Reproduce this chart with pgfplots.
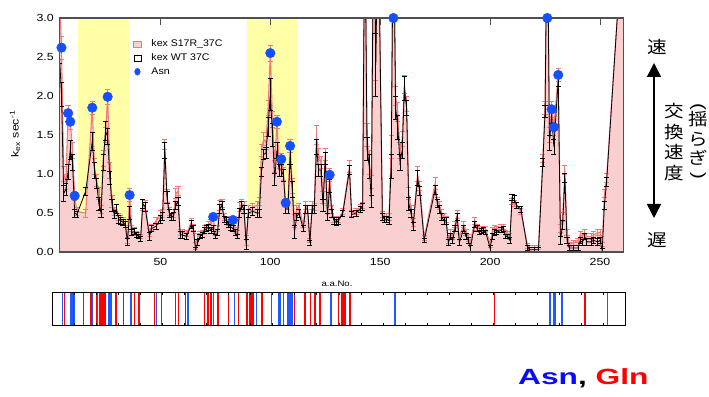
\documentclass[border=0pt]{standalone}
\usepackage{fontspec}
\setmainfont{Liberation Sans}[FakeStretch=1.2]
\newfontfamily\jp{Noto Sans CJK JP}[FakeStretch=1.15]
\newfontfamily\widefont{Liberation Sans}[FakeStretch=1.44]
\newfontfamily\legfont{Liberation Sans}[FakeStretch=1.1]
\usepackage{graphicx}
\usepackage{pgfplots}
\pgfplotsset{compat=1.18}
\usepackage{pgfplotstable}
\usetikzlibrary{arrows.meta}
\definecolor{pinkfill}{RGB}{249,207,207}
\definecolor{pinkline}{RGB}{245,120,120}
\definecolor{yellowband}{RGB}{255,255,168}
\definecolor{dotblue}{RGB}{20,80,255}
\definecolor{stripblue}{RGB}{30,90,255}
\definecolor{stripred}{RGB}{255,0,0}
\definecolor{axisgray}{RGB}{80,80,80}
\definecolor{asnblue}{RGB}{10,10,255}

\pgfplotstableread{
r wt we s se
4 2.55 0.13 3.40 0.20
5 2.02 0.15 2.62 0.15
6 0.75 0.10 1.00 0.10
7 0.80 0.08 0.90 0.10
8 1.03 0.10 1.78 0.10
9 1.31 0.12 1.67 0.10
10 1.15 0.10 1.30 0.10
11 0.50 0.05 0.72 0.06
12 0.48 0.04 0.52 0.05
16 0.78 0.05 0.50 0.05
19 1.42 0.12 1.85 0.08
20 1.05 0.10 1.10 0.10
21 0.88 0.07 0.92 0.08
22 0.62 0.08 0.75 0.08
23 0.50 0.05 0.55 0.05
24 1.15 0.10 1.20 0.10
25 1.55 0.12 1.50 0.10
26 1.48 0.10 1.99 0.10
27 0.95 0.08 1.05 0.10
28 0.60 0.08 0.65 0.08
29 0.48 0.05 0.52 0.05
30 0.55 0.06 0.55 0.06
31 0.42 0.05 0.45 0.05
32 0.40 0.04 0.42 0.05
33 0.38 0.04 0.40 0.04
34 0.35 0.04 0.38 0.04
35 0.13 0.04 0.15 0.04
36 0.50 0.08 0.73 0.08
37 0.25 0.04 0.30 0.04
38 0.26 0.04 0.28 0.04
39 0.22 0.03 0.24 0.03
40 0.20 0.03 0.22 0.03
41 0.17 0.03 0.20 0.03
42 0.62 0.06 0.60 0.07
43 0.58 0.06 0.60 0.06
45 0.20 0.05 0.25 0.05
46 0.30 0.04 0.32 0.04
48 0.33 0.04 0.40 0.04
50 0.42 0.05 0.48 0.05
51 0.46 0.05 0.50 0.05
52 1.30 0.10 1.38 0.06
53 0.70 0.08 0.72 0.08
54 0.50 0.05 0.52 0.05
55 0.45 0.05 0.45 0.05
56 0.46 0.05 0.50 0.05
57 0.60 0.05 0.75 0.06
58 0.65 0.05 0.78 0.06
59 0.22 0.04 0.25 0.04
60 0.22 0.04 0.25 0.04
62 0.20 0.04 0.24 0.04
64 0.35 0.05 0.38 0.05
65 0.30 0.04 0.32 0.04
66 0.02 0.04 0.08 0.04
67 0.12 0.04 0.20 0.04
68 0.20 0.03 0.24 0.03
69 0.22 0.03 0.25 0.03
70 0.28 0.04 0.30 0.04
71 0.30 0.04 0.32 0.04
72 0.32 0.04 0.35 0.04
73 0.28 0.04 0.38 0.04
74 0.30 0.04 0.45 0.05
75 0.20 0.03 0.24 0.03
76 0.25 0.04 0.30 0.04
77 0.55 0.06 0.60 0.06
78 0.60 0.05 0.62 0.05
79 0.42 0.04 0.45 0.04
80 0.40 0.04 0.42 0.04
81 0.35 0.04 0.38 0.04
82 0.32 0.04 0.35 0.04
83 0.30 0.04 0.41 0.04
84 0.25 0.04 0.28 0.04
85 0.20 0.03 0.25 0.03
86 0.50 0.06 0.58 0.06
87 0.60 0.05 0.62 0.05
88 0.55 0.05 0.60 0.05
89 0.10 0.06 0.15 0.06
90 0.50 0.05 0.55 0.05
92 0.52 0.05 0.58 0.05
94 0.50 0.05 0.60 0.05
95 0.50 0.05 0.65 0.05
96 1.03 0.06 1.30 0.08
97 1.25 0.06 1.45 0.08
98 1.27 0.07 1.40 0.08
99 1.60 0.12 1.85 0.10
100 2.02 0.20 2.55 0.10
101 1.50 0.15 1.70 0.10
102 0.93 0.08 1.10 0.08
103 1.30 0.10 1.67 0.08
104 1.05 0.08 1.15 0.08
105 1.05 0.08 1.19 0.08
106 0.98 0.08 1.00 0.08
107 0.55 0.06 0.63 0.06
108 0.55 0.05 0.60 0.05
109 1.22 0.10 1.36 0.08
110 0.80 0.10 0.85 0.10
111 0.26 0.08 0.40 0.08
112 0.45 0.05 0.55 0.05
113 0.50 0.05 0.58 0.05
115 0.30 0.04 0.35 0.04
116 0.55 0.05 0.60 0.05
117 0.55 0.05 0.55 0.05
118 0.12 0.03 0.15 0.03
119 0.55 0.05 0.60 0.05
120 0.55 0.05 0.58 0.05
121 1.35 0.10 1.50 0.12
122 1.05 0.08 1.25 0.08
123 1.05 0.08 1.15 0.08
124 0.60 0.08 0.70 0.08
125 1.20 0.08 1.25 0.08
126 0.45 0.05 0.55 0.05
127 0.85 0.08 0.99 0.08
128 0.50 0.05 0.55 0.05
129 0.40 0.04 0.42 0.04
130 0.38 0.04 0.40 0.04
131 0.40 0.04 0.42 0.04
133 0.50 0.04 0.52 0.04
136 1.05 0.06 1.10 0.08
137 0.48 0.04 0.50 0.04
139 0.50 0.04 0.52 0.04
141 0.55 0.04 0.57 0.04
142 0.58 0.04 0.60 0.04
143 4.50 0.20 4.50 0.20
144 1.32 0.15 1.50 0.15
145 1.10 0.15 1.15 0.15
146 0.65 0.08 0.90 0.08
147 4.50 0.20 4.50 0.20
148 2.40 0.40 2.50 0.30
149 4.50 0.20 4.50 0.20
151 0.45 0.04 0.48 0.04
152 0.42 0.04 0.45 0.04
153 0.42 0.04 0.45 0.04
154 0.40 0.04 0.45 0.05
155 1.10 0.15 1.35 0.15
156 4.50 0.20 4.50 0.20
157 1.85 0.15 2.00 0.12
158 1.60 0.15 1.80 0.12
159 1.15 0.10 1.30 0.10
160 1.30 0.10 1.45 0.10
161 2.10 0.15 2.15 0.12
162 1.85 0.10 1.90 0.10
163 0.62 0.08 0.75 0.08
164 0.50 0.05 0.55 0.05
165 0.33 0.05 0.38 0.05
167 0.95 0.10 1.00 0.10
168 0.78 0.06 0.85 0.06
170 0.15 0.03 0.18 0.03
175 0.80 0.06 0.88 0.08
176 0.62 0.05 0.65 0.05
177 0.55 0.05 0.60 0.05
178 0.45 0.04 0.50 0.05
179 0.40 0.04 0.45 0.04
180 0.40 0.04 0.42 0.04
181 0.12 0.04 0.15 0.04
182 0.20 0.04 0.25 0.04
183 0.15 0.04 0.20 0.04
184 0.30 0.04 0.35 0.04
185 0.45 0.05 0.48 0.05
186 0.12 0.04 0.20 0.04
188 0.30 0.04 0.35 0.04
189 0.20 0.04 0.25 0.04
190 0.15 0.04 0.18 0.04
191 0.05 0.04 0.12 0.04
193 0.35 0.04 0.40 0.04
194 0.30 0.04 0.32 0.04
195 0.25 0.03 0.30 0.03
196 0.27 0.03 0.30 0.03
197 0.28 0.03 0.30 0.03
198 0.25 0.03 0.30 0.03
200 0.05 0.04 0.10 0.04
201 0.20 0.04 0.28 0.04
202 0.25 0.04 0.30 0.04
203 0.25 0.03 0.30 0.03
205 0.28 0.03 0.32 0.03
206 0.30 0.03 0.32 0.03
207 0.20 0.03 0.25 0.03
208 0.20 0.03 0.24 0.03
209 0.15 0.04 0.20 0.04
210 0.70 0.04 0.65 0.04
211 0.68 0.04 0.62 0.04
212 0.60 0.04 0.60 0.04
214 0.55 0.04 0.52 0.04
217 0.05 0.03 0.08 0.03
218 0.03 0.03 0.06 0.03
220 0.03 0.03 0.06 0.03
222 0.03 0.03 0.06 0.03
224 1.15 0.05 1.20 0.05
225 1.80 0.08 1.85 0.08
226 4.50 0.20 4.50 0.20
227 1.40 0.10 1.50 0.10
228 1.75 0.10 1.83 0.10
229 1.35 0.10 1.60 0.10
231 2.20 0.08 2.27 0.08
232 0.15 0.05 0.30 0.05
233 0.35 0.06 0.45 0.06
234 0.95 0.06 1.05 0.06
235 0.15 0.04 0.25 0.04
236 0.05 0.03 0.10 0.03
238 0.05 0.03 0.12 0.03
240 0.05 0.03 0.15 0.03
241 0.15 0.04 0.22 0.04
242 0.12 0.04 0.20 0.04
243 0.20 0.04 0.25 0.04
244 0.13 0.04 0.20 0.04
246 0.13 0.04 0.20 0.04
247 0.15 0.04 0.22 0.04
249 0.13 0.04 0.25 0.04
250 0.15 0.04 0.25 0.04
251 0.02 0.03 0.10 0.03
252 0.60 0.05 0.75 0.05
253 0.90 0.06 0.95 0.06
259 3.50 0.10 3.50 0.10
261 3.50 0.10 3.50 0.10
}\kexdata

\pgfplotstableread{
r v
5 2.62
8 1.78
9 1.67
11 0.72
19 1.85
26 1.99
36 0.73
74 0.45
83 0.41
100 2.55
103 1.67
105 1.19
107 0.63
109 1.36
127 0.99
156 3.00
226 3.00
228 1.83
229 1.60
231 2.27
}\asndata

\begin{document}
\begin{tikzpicture}
\useasboundingbox (0pt,0pt) rectangle (709pt,396pt);

% main axis
\begin{axis}[
  at={(59.3pt,144pt)}, anchor=south west, scale only axis,
  width=564pt, height=234pt,
  xmin=4, xmax=260.6, ymin=0, ymax=3,
  axis on top,
  axis line style={draw=axisgray, line width=1.1pt},
  xtick={50,100,150,200,250},
  ytick={0,0.5,1,1.5,2,2.5,3},
  xtick pos=right, xticklabel pos=left,
  tick align=inside, major tick length=7pt,
  ytick style={draw=none},
  xtick style={draw=axisgray, line width=1pt},
  tick label style={font=\fontsize{10.3}{12}\selectfont},
  /pgf/number format/assume math mode=true,
  yticklabel style={/pgf/number format/.cd, fixed, fixed zerofill, precision=1},
  yticklabel shift=2pt,
  xticklabel shift=3pt,
  legend style={at={(rel axis cs:0.1307,0.917)}, anchor=north west, draw=none, fill=none,
    font=\legfont\fontsize{9.6}{11}\selectfont, row sep=1.6pt, inner sep=0pt},
  legend cell align=left,
]
\addplot[draw=none, fill=yellowband, forget plot] coordinates {(12.7,3) (35.6,3)} \closedcycle;
\addplot[draw=none, fill=yellowband, forget plot] coordinates {(89.2,3) (112.3,3)} \closedcycle;
\addplot[draw=none, fill=pinkfill, forget plot] table[x=r, y=s] {\kexdata} \closedcycle;
\addplot[pinkline, line width=1.1pt, forget plot,
  error bars/.cd, y dir=both, y explicit,
  error bar style={pinkline, line width=0.7pt},
  error mark options={pinkline, rotate=90, mark size=2.6pt, line width=0.7pt}]
  table[x=r, y=s, y error=se] {\kexdata};
\addplot[black, line width=0.8pt, forget plot,
  error bars/.cd, y dir=both, y explicit,
  error bar style={black, line width=0.7pt},
  error mark options={black, rotate=90, mark size=2.6pt, line width=0.7pt}]
  table[x=r, y=wt, y error=we] {\kexdata};
\addlegendimage{legend image code/.code={\path[draw=none, fill=none] (0pt,0pt) -- (16pt,0pt); \fill[pinkfill] (0pt,-3pt) rectangle (8pt,3pt); \draw[pinkline, line width=0.5pt] (0pt,-3pt) rectangle (8pt,3pt);}}
\addlegendentry{kex S17R\_37C}
\addlegendimage{legend image code/.code={\path[draw=none, fill=none] (0pt,0pt) -- (16pt,0pt); \draw[black, line width=0.8pt] (0.5pt,-3pt) rectangle (8pt,3pt);}}
\addlegendentry{kex WT 37C}
\addlegendimage{legend image code/.code={\path[draw=none, fill=none] (0pt,0pt) -- (16pt,0pt); \fill[dotblue] (4pt,0pt) ellipse (2.8pt and 3.5pt);}}
\addlegendentry{Asn}
\end{axis}

% Asn dots (not clipped)
\begin{axis}[
  at={(59.3pt,144pt)}, anchor=south west, scale only axis,
  width=564pt, height=234pt,
  xmin=4, xmax=260.6, ymin=0, ymax=3,
  hide axis, clip=false,
]
\addplot[only marks, mark=*, mark size=4.8pt, mark options={fill=dotblue, draw=dotblue}]
  table[x=r, y=v] {\asndata};
\end{axis}

% Asn / Gln strip
\begin{axis}[
  at={(52.7pt,70.3pt)}, anchor=south west, scale only axis,
  width=572.3pt, height=33.7pt,
  xmin=0, xmax=260, ymin=0, ymax=1,
  axis on top,
  axis line style={black, line width=0.9pt},
  xtick={10,20,...,250}, xticklabels={}, ytick=\empty,
  xtick pos=both, tick align=inside, major tick length=3pt,
  xtick style={black, line width=0.7pt},
]
\addplot[ycomb, stripblue, line width=1.5pt] coordinates {
(4.5,1) (8,1) (8.7,1) (10,1) (18,1) (20.4,1) (25.5,1) (26.5,1) (35.6,1)
(47.2,1) (61.5,1) (73,1) (82.5,1) (92.7,1) (99.5,1) (102.5,1) (103.3,1)
(104.8,1) (106.6,1) (107.4,1) (108.3,1) (109,1) (126.4,1) (155.5,1)
(226,1) (227.5,1) (228.3,1) (231.3,1) (252,1)};
\addplot[ycomb, stripred, line width=1.5pt] coordinates {
(5.4,1) (9.4,1) (13.9,1) (17.3,1) (20,1) (21.5,1) (22.3,1) (23,1) (23.8,1)
(28.8,1) (32.1,1) (37.1,1) (39.2,1) (46.3,1) (49.5,1) (55.9,1) (57.1,1)
(60.3,1) (69,1) (70.5,1) (72,1) (75.2,1) (79.8,1) (84.3,1) (88.3,1)
(89.3,1) (90.2,1) (91,1) (95,1) (109.8,1) (114.6,1) (117.2,1) (119.2,1)
(121.4,1) (129.8,1) (131.4,1) (132.3,1) (133,1) (135.1,1) (200.6,1) (241.8,1)};
\end{axis}

% labels
\node[rotate=90, font=\fontsize{10.3}{12}\selectfont] at (15pt,262pt) {k\textsubscript{ex} sec\textsuperscript{-1}};
\node[font=\fontsize{8}{10}\selectfont] at (337pt,112pt) {a.a.No.};

% right-hand annotation
\node[font=\jp\fontsize{17}{20}\selectfont] at (657pt,349pt) {速};
\node[font=\jp\fontsize{17}{20}\selectfont] at (657pt,156pt) {遅};
\draw[line width=1.5pt, {Triangle[width=14pt,length=14pt]}-{Triangle[width=14pt,length=14pt]}] (654pt,333pt) -- (654pt,178pt);
\node[font=\jp\fontsize{17}{20.5}\selectfont, align=center] at (674pt,254pt) {交\\換\\速\\度};
\node[font=\fontsize{17}{20}\selectfont, inner sep=0pt] at (698pt,289pt) {\rotatebox{-90}{(}};
\node[font=\jp\fontsize{17}{20}\selectfont, inner sep=0pt] at (698pt,277pt) {揺};
\node[font=\jp\fontsize{17}{20}\selectfont, inner sep=0pt] at (698pt,257pt) {ら};
\node[font=\jp\fontsize{17}{20}\selectfont, inner sep=0pt] at (698pt,238pt) {ぎ};
\node[font=\fontsize{17}{20}\selectfont, inner sep=0pt] at (698pt,220pt) {\rotatebox{-90}{)}};

% bottom legend
\node[anchor=base west, inner sep=0pt, font=\widefont\bfseries\fontsize{22}{26}\selectfont] at (518pt,12pt)
  {\textcolor{asnblue}{Asn}, \textcolor{stripred}{Gln}};
\end{tikzpicture}
\end{document}
